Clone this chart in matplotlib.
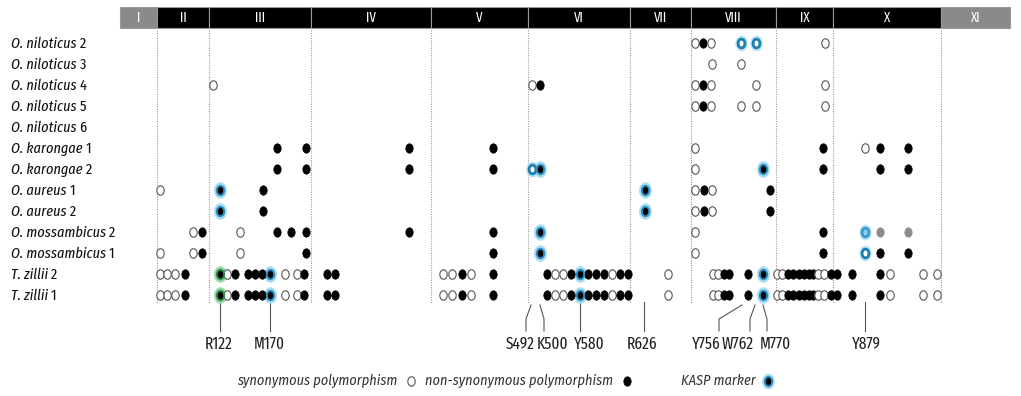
import matplotlib
matplotlib.use('Agg')
import matplotlib.pyplot as plt
from matplotlib.path import Path
from matplotlib.patches import Rectangle
from matplotlib.font_manager import fontManager

_fonts = {}
for f in fontManager.ttflist:
    _fonts.setdefault(f.name, set()).add(f.style)


def pick(cands):
    for c in cands:
        if c in _fonts and 'italic' in _fonts[c]:
            return c
    return 'DejaVu Sans'


COND = pick(['Fira Sans Condensed', 'Roboto Condensed', 'Barlow Semi Condensed', 'TeX Gyre Heros Cn'])
XCOND = pick(['Fira Sans Extra Condensed', 'Roboto Condensed', 'Barlow Condensed', COND])

# ---------------- data ----------------
species = ["O. niloticus", "O. niloticus", "O. niloticus", "O. niloticus", "O. niloticus",
           "O. karongae", "O. karongae", "O. aureus", "O. aureus",
           "O. mossambicus", "O. mossambicus", "T. zillii", "T. zillii"]
sample_no = ["2", "3", "4", "5", "6", "1", "2", "1", "2", "2", "1", "2", "1"]

exons = ["I", "II", "III", "IV", "V", "VI", "VII", "VIII", "IX", "X", "XI"]
exon_edges = [120, 157, 209, 311, 431, 528, 630, 691, 776, 833, 941, 1010]
exon_utr = ["I", "XI"]

zillii_syn = [160, 167, 175, 227, 285, 297, 443, 452, 471, 555, 563, 612, 668,
              713, 718, 777, 782, 818, 824, 890, 923, 937]
zillii_nonsyn = [185, 220, 235, 248, 255, 262, 270, 304, 327, 335, 462, 493,
                 547, 571, 580, 588, 596, 604, 620, 628, 724, 729, 748, 763,
                 788, 793, 799, 804, 809, 813, 831, 837, 852, 880]

syn = [
    [695, 711, 741, 756, 825],
    [712, 741],
    [213, 532, 695, 711, 756, 825],
    [695, 711, 741, 756, 825],
    [],
    [695, 865],
    [532, 695],
    [160, 695, 712],
    [695, 712],
    [193, 240, 695, 865],
    [160, 193, 240, 695, 865],
    zillii_syn,
    zillii_syn,
]
nonsyn = [
    [703],
    [],
    [540, 703],
    [703],
    [],
    [277, 306, 409, 493, 823, 880, 908],
    [277, 306, 409, 493, 540, 763, 823, 880, 908],
    [220, 263, 645, 704, 770],
    [220, 263, 645, 704, 770],
    [202, 277, 291, 306, 409, 493, 540, 823],
    [202, 306, 493, 540, 823, 880, 908],
    zillii_nonsyn,
    zillii_nonsyn,
]
# uncertain calls (grey)
grey_rows = [9, 9]
grey_pos = [880, 908]

# KASP markers: row index, position, kind
kasp_rows = [0, 0, 6, 6, 6, 7, 7, 8, 8, 9, 9, 10, 10, 11, 11, 11, 11, 12, 12, 12, 12]
kasp_pos = [741, 756, 532, 540, 763, 220, 645, 220, 645, 540, 865, 540, 865,
            220, 270, 580, 763, 220, 270, 580, 763]
kasp_kind = ["open", "open", "open", "fill", "fill", "fill", "fill", "fill", "fill",
             "fill", "light", "fill", "open",
             "green", "fill", "fill", "fill", "green", "fill", "fill", "fill"]

# annotated residues: label, column at markers, column at label
res_labels = ["R122", "M170", "S492", "K500", "Y580", "R626", "Y756", "W762", "M770", "Y879"]
res_top = [220, 270, 531, 540, 580, 644, 742, 755, 763, 865]
res_bottom = [220, 270, 526, 544, 580, 644, 719, 750, 767, 865]
res_text = [219, 269, 520, 553, 589, 642, 706, 738, 775, 866]

legend_labels = ["synonymous polymorphism", "non-synonymous polymorphism", "KASP marker"]

# ---------------- drawing ----------------
W, H = 1021, 396
fig = plt.figure(figsize=(W / 100, H / 100), dpi=100)
ax = fig.add_axes([0, 0, 1, 1])
ax.set_xlim(0, W)
ax.set_ylim(H, 0)
ax.axis('off')

row_y0, row_dy = 43, 21
rows_y = [row_y0 + i * row_dy for i in range(len(species))]

circ = Path.unit_circle()
ELL = Path(circ.vertices * [0.78, 1.0], circ.codes)
MS = 6.8

# header bar
bar_top, bar_bot = 7, 28
for i, ex in enumerate(exons):
    x0, x1 = exon_edges[i], exon_edges[i + 1]
    col = '#8a8a8a' if ex in exon_utr else '#000000'
    ax.add_patch(Rectangle((x0, bar_top), x1 - x0, bar_bot - bar_top,
                           facecolor=col, edgecolor='#9a9a9a', lw=0.8, zorder=2))
    ax.text((x0 + x1) / 2, (bar_top + bar_bot) / 2 + 0.5, ex, color='white',
            ha='center', va='center', fontsize=10, family=XCOND, zorder=3)

# dotted exon boundaries
for x in exon_edges[1:-1]:
    ax.plot([x, x], [30, 303], color='#9a9a9a', lw=0.8, ls=(0, (1, 1.2)), zorder=1)

# row labels: italic species name followed by upright sample number
fig.canvas.draw()
renderer = fig.canvas.get_renderer()
inv = ax.transData.inverted()
for i, (sp, n) in enumerate(zip(species, sample_no)):
    t = ax.text(11, rows_y[i] + 0.5, sp, ha='left', va='center', fontsize=11.2,
                family=XCOND, style='italic', color='#111111')
    bb = t.get_window_extent(renderer=renderer)
    x_end = inv.transform((bb.x1, bb.y0))[0]
    ax.text(x_end + 3, rows_y[i] + 0.5, n, ha='left', va='center', fontsize=11.2,
            family=XCOND, color='#111111')


def dot(x, y, fc, ec, lw, ms=MS, z=4):
    ax.plot([x], [y], ls='none', marker=ELL, ms=ms, mfc=fc, mec=ec, mew=lw, zorder=z)


# polymorphisms
for i in range(len(species)):
    y = rows_y[i]
    items = [(x, 's') for x in syn[i]] + [(x, 'n') for x in nonsyn[i]]
    items.sort()
    for k, (x, t) in enumerate(items):
        if t == 's':
            dot(x, y, 'white', '#555555', 0.8, z=4 + k * 0.001)
        else:
            dot(x, y, 'black', 'black', 0.5, z=4 + k * 0.001)

for r, x in zip(grey_rows, grey_pos):
    dot(x, rows_y[r], '#8c8c8c', '#8c8c8c', 0.5, z=5)

# KASP rings
for r, x, kd in zip(kasp_rows, kasp_pos, kasp_kind):
    y = rows_y[r]
    if kd == 'green':
        dot(x, y, '#9fd8ad', '#9fd8ad', 0.5, ms=MS + 4.5, z=3)
        dot(x, y, 'black', '#2f8f4a', 1.4, z=6)
    elif kd == 'fill':
        dot(x, y, '#a7dcf2', '#a7dcf2', 0.5, ms=MS + 4.5, z=3)
        dot(x, y, 'black', '#2b8fc6', 1.4, z=6)
    elif kd == 'open':
        dot(x, y, '#b9e2f4', '#b9e2f4', 0.5, ms=MS + 4, z=3)
        dot(x, y, 'white', '#1f7fb3', 2.0, ms=MS - 0.5, z=6)
    elif kd == 'light':
        dot(x, y, '#b9e2f4', '#b9e2f4', 0.5, ms=MS + 4, z=3)
        dot(x, y, '#8fcbec', '#3a9ad2', 2.0, ms=MS - 0.5, z=6)

# residue annotations
for lab, xt, xb, xl in zip(res_labels, res_top, res_bottom, res_text):
    if xt == xb:
        ax.plot([xt, xt], [302, 331], color='#555555', lw=0.8, zorder=2)
    else:
        ax.plot([xt, xb, xb], [305, 319, 331], color='#555555', lw=0.8, zorder=2)
    ax.text(xl, 344, lab, ha='center', va='center', fontsize=12, family=XCOND,
            color='#222222')

# legend
leg_y = 381
leg_text_right = [397, 613, 756]
leg_mark_x = [411, 627, 768]
for lab, xr, xm, k in zip(legend_labels, leg_text_right, leg_mark_x, range(3)):
    ax.text(xr, leg_y, lab, ha='right', va='center', fontsize=10.3, family=COND,
            style='italic', color='#333333')
    if k == 0:
        dot(xm, leg_y, 'white', '#555555', 0.8)
    elif k == 1:
        dot(xm, leg_y, 'black', 'black', 0.5)
    else:
        dot(xm, leg_y, '#a7dcf2', '#a7dcf2', 0.5, ms=MS + 4, z=3)
        dot(xm, leg_y, 'black', '#2b8fc6', 1.4, z=6)

fig.savefig('out.png', dpi=100)
